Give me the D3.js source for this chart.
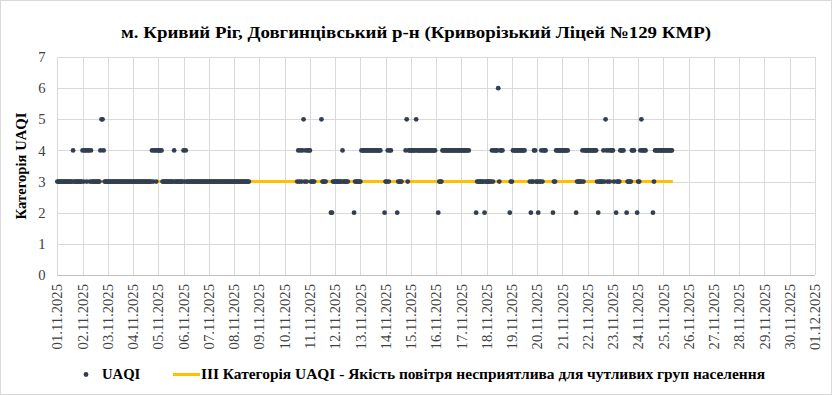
<!DOCTYPE html>
<html>
<head>
<meta charset="utf-8">
<script src="https://cdn.jsdelivr.net/npm/d3@7"></script>
<style>
  body { margin: 0; background: #fff; }
  svg text { font-family: "Liberation Serif", "Times New Roman", serif; }
</style>
</head>
<body>
<svg id="chart" width="832" height="395"></svg>
<script>
// hourly UAQI category, one string per day from 01.11.2025, "." = no data
var hourlyUaqi = [
    "333333333333333433333333", // 01.11
    "434434434333333334554333",
    "333333333333333333333333",
    "333333333333333333434434",
    "444433333333333433333333", // 05.11
    "434333333333333333333333",
    "333333333333333333333333",
    "333333333333333.........",
    "........................",
    "............343434534344", // 10.11
    "43333......53333....2233",
    "3333333433333.....233333",
    "34444444444444444444...2",
    "334344.....23333...45344",
    "444445444444444444444444", // 15.11
    "..2333444444444444444444",
    "44444444......2333333323",
    "3333343444463444......23",
    "3444444444444....3233443",
    "323343444......233444444", // 20.11
    "444444.......23333343444",
    "444444444323333435434344",
    "43.23334444..23333444..2",
    "33454444......2344444444",
    "444444444..............."  // 25.11
];
var startDay = [2025, 10, 1];       // 01.11.2025 (UTC, month 0-based)
var endDay = [2025, 11, 1];         // 01.12.2025
var thresholdValue = 3;
var thresholdEndHour = 585;         // yellow line stops at 25.11 09:00
var yTicks = [0, 1, 2, 3, 4, 5, 6, 7];

var titleText = "м. Кривий Ріг, Довгинцівський р-н (Криворізький Ліцей №129 КМР)";
var yTitle = "Категорія UAQI";
var legendDots = "UAQI";
var legendLine = "III Категорія UAQI - Якість повітря несприятлива для чутливих груп населення";

var dotColor = "#333f50", lineColor = "#ffc000", gridColor = "#d9d9d9";

var margin = {top: 57, right: 17, bottom: 120, left: 57.3},
    W = 832, H = 395;

var t0 = Date.UTC(startDay[0], startDay[1], startDay[2]);
var t1 = Date.UTC(endDay[0], endDay[1], endDay[2]);

var points = [];
hourlyUaqi.forEach(function(day, d) {
    day.split("").forEach(function(c, h) {
        if (c !== ".") points.push({t: new Date(t0 + (d * 24 + h) * 3600e3), v: +c});
    });
});

var svg = d3.select("#chart");

svg.append("rect")
    .attr("x", 0.5).attr("y", 0.5)
    .attr("width", W - 1).attr("height", H - 1)
    .attr("fill", "#fff").attr("stroke", gridColor);

var x = d3.scaleUtc().domain([new Date(t0), new Date(t1)]).range([margin.left, W - margin.right]);
var y = d3.scaleLinear().domain([0, 7]).range([H - margin.bottom, margin.top]);

var days = d3.utcDay.range(new Date(t0), new Date(t1 + 1));

// grid
var grid = svg.append("g");
grid.selectAll(".vg").data(days).enter().append("line")
    .attr("x1", function(d) { return Math.round(x(d)) + 0.5; })
    .attr("x2", function(d) { return Math.round(x(d)) + 0.5; })
    .attr("y1", y(7)).attr("y2", y(0))
    .attr("stroke", gridColor);
grid.selectAll(".hg").data(yTicks).enter().append("line")
    .attr("x1", x.range()[0]).attr("x2", x.range()[1])
    .attr("y1", function(d) { return Math.round(y(d)) + 0.5; })
    .attr("y2", function(d) { return Math.round(y(d)) + 0.5; })
    .attr("stroke", function(d) { return d === 0 ? "#bfbfbf" : gridColor; });

// x labels
var fmt = d3.utcFormat("%d.%m.%Y");
svg.append("g").selectAll("text").data(days).enter().append("text")
    .attr("transform", function(d) { return "translate(" + x(d) + "," + (y(0) + 9) + ") rotate(-90)"; })
    .attr("dy", "0.35em")
    .attr("text-anchor", "end")
    .attr("font-size", "14.67px")
    .attr("fill", "#404040")
    .text(function(d) { return fmt(d); });

// y labels
svg.append("g").selectAll("text").data(yTicks).enter().append("text")
    .attr("x", 45.5).attr("y", function(d) { return y(d); })
    .attr("dy", "0.35em")
    .attr("text-anchor", "end")
    .attr("font-size", "14.67px")
    .attr("fill", "#404040")
    .text(function(d) { return d; });

svg.append("text")
    .attr("transform", "translate(26," + y(3.5) + ") rotate(-90)")
    .attr("text-anchor", "middle")
    .attr("font-size", "14.67px")
    .attr("font-weight", "bold")
    .text(yTitle);

svg.append("text")
    .attr("x", 121).attr("y", 37.5)
    .attr("font-size", "17px")
    .attr("font-weight", "bold")
    .attr("textLength", 590)
    .attr("lengthAdjust", "spacingAndGlyphs")
    .text(titleText);

// threshold line
svg.append("line")
    .attr("x1", x(new Date(t0))).attr("x2", x(new Date(t0 + thresholdEndHour * 3600e3)))
    .attr("y1", y(thresholdValue)).attr("y2", y(thresholdValue))
    .attr("stroke", lineColor).attr("stroke-width", 3);

// points
svg.append("g").selectAll("circle").data(points).enter().append("circle")
    .attr("cx", function(d) { return x(d.t); })
    .attr("cy", function(d) { return y(d.v); })
    .attr("r", 2.4)
    .attr("fill", dotColor);

// legend
var ly = 374.5;
svg.append("circle").attr("cx", 86).attr("cy", ly).attr("r", 2.4).attr("fill", dotColor);
svg.append("text").attr("x", 102).attr("y", ly + 4.5)
    .attr("font-size", "14.67px").attr("font-weight", "bold").text(legendDots);
svg.append("line").attr("x1", 173).attr("x2", 200).attr("y1", ly).attr("y2", ly)
    .attr("stroke", lineColor).attr("stroke-width", 3);
svg.append("text").attr("x", 201).attr("y", ly + 4.5)
    .attr("font-size", "14.67px").attr("font-weight", "bold")
    .attr("textLength", 564).attr("lengthAdjust", "spacingAndGlyphs")
    .text(legendLine);
</script>
</body>
</html>
